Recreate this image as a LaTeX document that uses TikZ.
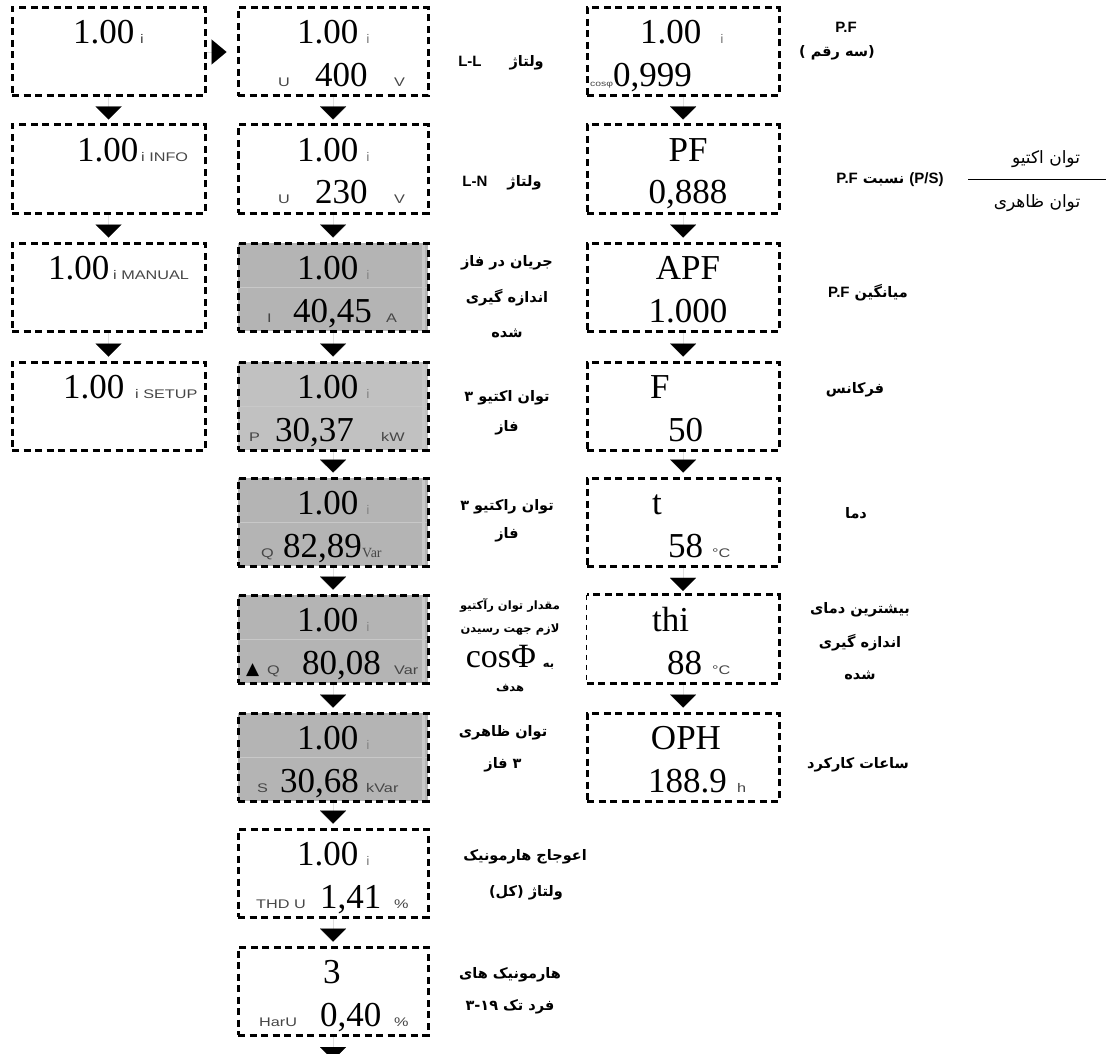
\documentclass[tikz,border=0pt]{standalone}
\usepackage{fontspec}
\setmainfont{Liberation Serif}
\newfontfamily\lcdf{Liberation Serif}
\newfontfamily\unitf[FakeStretch=1.3]{Liberation Sans}
\newfontfamily\faf[Script=Arabic]{DejaVu Sans}
\newfontfamily\symf{DejaVu Sans}
\newfontfamily\latf{Liberation Sans}
\TeXXeTstate=1
\usetikzlibrary{arrows.meta}
\definecolor{lcdgray}{RGB}{180,180,180}
\definecolor{lcdgrayl}{RGB}{193,193,193}
\definecolor{midl}{RGB}{200,200,200}
\definecolor{unitc}{RGB}{70,70,70}
\definecolor{ic}{RGB}{140,140,140}
\newcommand\numf{\lcdf\fontsize{35}{40}\selectfont}
\newcommand\unf{\unitf\fontsize{12.5}{14}\selectfont}
\newcommand\labf{\faf\bfseries\fontsize{14.5}{17}\selectfont}
\newcommand\labsf{\faf\bfseries\fontsize{11.5}{13}\selectfont}
\newcommand\fracf{\faf\fontsize{17}{20}\selectfont}
\newcommand\lt[1]{{\latf\bfseries\fontsize{15}{17}\selectfont #1}}
\newcommand\dg[1]{{\symf\bfseries #1}}
\tikzset{
  boxline/.style={line width=3pt, dash pattern=on 7pt off 4.5pt},
  lbox/.style={boxline, draw, minimum width=193pt, minimum height=88pt, inner sep=0pt},
  mbox/.style={boxline, draw, minimum width=190pt, minimum height=88pt, inner sep=0pt},
  rbox/.style={boxline, draw, minimum width=192pt, minimum height=88pt, inner sep=0pt},
  num/.style={anchor=base west, inner sep=0pt, font=\numf},
  numc/.style={anchor=base, inner sep=0pt, font=\numf},
  unit/.style={anchor=base west, inner sep=0pt, font=\unf, text=unitc},
  iu/.style={unit, text=ic},
  lab/.style={inner sep=0pt, font=\labf},
  labs/.style={inner sep=0pt, font=\labsf},
  conn/.style={line width=0.01pt, -{Triangle[width=26pt,length=13pt]}, shorten >=4pt},
  rconn/.style={line width=0.01pt, -{Triangle[width=25pt,length=15pt]}, shorten >=10pt},
  midline/.style={draw=midl, line width=1pt},
  strip/.style={draw=midl, line width=3pt},
}
\begin{document}
\begin{tikzpicture}[x=1pt, y=-1pt]
\useasboundingbox (0,0) rectangle (1106,1054);
% ---------- left column ----------
\node[lbox] (L1) at (108.5,52) {};
\node[lbox] (L2) at (108.5,169) {};
\node[lbox] (L3) at (108.5,287) {};
\node[lbox] (L4) at (108.5,406) {};
% ---------- middle column ----------
\node[mbox] (M1) at (333,52) {};
\node[mbox] (M2) at (333,169) {};
\node[mbox, fill=lcdgray] (M3) at (333,287) {};
\node[mbox, fill=lcdgrayl] (M4) at (333,406) {};
\node[mbox, fill=lcdgray] (M5) at (333,522) {};
\node[mbox, fill=lcdgray] (M6) at (333,639) {};
\node[mbox, fill=lcdgray] (M7) at (333,757) {};
\node[mbox] (M8) at (333,873) {};
\node[mbox] (M9) at (333,991) {};
\foreach \b in {M3,M4,M5,M6,M7}{
  \draw[midline] ([xshift=3pt]\b.west) -- ([xshift=-3pt]\b.east);
  \draw[strip] ([xshift=-6pt,yshift=-3pt]\b.north east) -- ([xshift=-6pt,yshift=3pt]\b.south east);
}
% ---------- right column ----------
\node[rbox] (R1) at (683,52) {};
\node[rbox] (R2) at (683,169) {};
\node[rbox] (R3) at (683,287) {};
\node[rbox] (R4) at (683,406) {};
\node[rbox] (R5) at (683,522) {};
\node[minimum width=192pt, minimum height=88pt, inner sep=0pt] (R6) at (683,639) {};
\draw[boxline] (R6.south west) -- (R6.south east) -- (R6.north east) -- (R6.north west);
\draw[line width=0.9pt, dash pattern=on 5pt off 5pt] (R6.north west) -- (R6.south west);
\node[rbox] (R7) at (683,757) {};
% ---------- connectors ----------
\draw[rconn] (L1.east) -- (M1.west);
\draw[conn] (L1.south) -- (L2.north);
\draw[conn] (L2.south) -- (L3.north);
\draw[conn] (L3.south) -- (L4.north);
\foreach \a/\b in {M1/M2,M2/M3,M3/M4,M4/M5,M5/M6,M6/M7,M7/M8,M8/M9,R1/R2,R2/R3,R3/R4,R4/R5,R5/R6,R6/R7}{
  \draw[conn] (\a.south) -- (\b.north);
}
\coordinate (Mend) at (333,1060);
\draw[line width=0.01pt, -{Triangle[width=26pt,length=13pt]}] (M9.south) -- (Mend);
% ---------- left texts ----------
\node[num] (L1a) at (73,44) {1.00};   \node[unit] (L1b) at (140,44) {i};
\node[num] (L2a) at (77,161) {1.00};  \node[unit] (L2b) at (141,161) {i INFO};
\node[num] (L3a) at (48,279) {1.00};  \node[unit] (L3b) at (113,279) {i MANUAL};
\node[num] (L4a) at (63,398) {1.00};  \node[unit] (L4b) at (135,398) {i SETUP};
% ---------- middle texts ----------
\foreach \n/\y in {M1/44,M2/161,M3/279,M4/398,M5/514,M6/631,M7/749,M8/865}{
  \node[num] (\n a) at (297,\y) {1.00};
  \node[iu] (\n b) at (366,\y) {i};
}
\node[unit] (M1c) at (278,87) {U}; \node[num] (M1d) at (315,87) {400}; \node[unit] (M1e) at (394,87) {V};
\node[unit] (M2c) at (278,204) {U}; \node[num] (M2d) at (315,204) {230}; \node[unit] (M2e) at (394,204) {V};
\node[unit] (M3c) at (267,322) {I}; \node[num] (M3d) at (293,322) {40,45}; \node[unit] (M3e) at (386,322) {A};
\node[unit] (M4c) at (249,441) {P}; \node[num] (M4d) at (275,441) {30,37}; \node[unit] (M4e) at (381,441) {kW};
\node[unit] (M5c) at (261,557) {Q}; \node[num] (M5d) at (283,557) {82,89};
\node[anchor=base west, inner sep=0pt, font=\lcdf\fontsize{14}{15}\selectfont, text=unitc] (M5e) at (362,557) {Var};
\node[anchor=base west, inner sep=0pt, font=\symf\fontsize{17}{18}\selectfont] (M6t) at (246,674) {▲};
\node[unit] (M6c) at (267,674) {Q}; \node[num] (M6d) at (302,674) {80,08}; \node[unit] (M6e) at (394,674) {Var};
\node[unit] (M7c) at (257,792) {S}; \node[num] (M7d) at (280,792) {30,68}; \node[unit] (M7e) at (366,792) {kVar};
\node[unit] (M8c) at (256,908) {THD U}; \node[num] (M8d) at (320,908) {1,41}; \node[unit] (M8e) at (394,908) {\%};
\node[num] (M9a) at (323,983) {3};
\node[unit] (M9c) at (259,1026) {HarU}; \node[num] (M9d) at (320,1026) {0,40}; \node[unit] (M9e) at (394,1026) {\%};
% ---------- right texts ----------
\node[num] (R1a) at (640,44) {1.00}; \node[iu] (R1b) at (720,44) {i};
\node[anchor=base west, inner sep=0pt, font=\unitf\fontsize{8}{9}\selectfont, text=unitc] (R1c) at (590,87) {cosφ};
\node[num] (R1d) at (613,87) {0,999};
\node[numc] (R2a) at (688,161) {PF};   \node[numc] (R2d) at (688,204) {0,888};
\node[numc] (R3a) at (688,279) {APF};  \node[numc] (R3d) at (688,322) {1.000};
\node[num] (R4a) at (650,398) {F};     \node[num] (R4d) at (668,441) {50};
\node[num] (R5a) at (652,514) {t};     \node[num] (R5d) at (668,557) {58}; \node[unit] (R5e) at (712,557) {°C};
\node[num] (R6a) at (652,631) {thi};   \node[num] (R6d) at (667,674) {88}; \node[unit] (R6e) at (712,674) {°C};
\node[numc] (R7a) at (686,749) {OPH};  \node[num] (R7d) at (648,792) {188.9}; \node[unit] (R7e) at (737,792) {h};
% ---------- middle labels ----------
\node[lab] (tLL) at (501,63) {\lt{L-L}\hspace{28pt}ولتاژ};
\node[lab] (tLN) at (502,183) {\lt{L-N}\hspace{20pt}ولتاژ};
\node[lab] (tI1) at (507,263) {\beginR جریان در فاز\endR};
\node[lab] (tI2) at (507,298) {\beginR اندازه گیری\endR};
\node[lab] (tI3) at (507,333) {شده};
\node[lab] (tP1) at (507,398) {\beginR توان اکتیو \dg{۳}\endR};
\node[lab] (tP2) at (507,428) {فاز};
\node[lab] (tQ1) at (507,507) {\beginR توان راکتیو \dg{۳}\endR};
\node[lab] (tQ2) at (507,535) {فاز};
\node[labs] (tD1) at (510,605) {\beginR مقدار توان رآکتیو\endR};
\node[labs] (tD2) at (510,630) {\beginR لازم جهت رسیدن\endR};
\node[inner sep=0pt] (tD3) at (510,657) {{\lcdf\fontsize{34}{36}\selectfont cosΦ}\hspace{7pt}{\labsf به}};
\node[labs] (tD4) at (510,688) {هدف};
\node[lab] (tS1) at (503,733) {\beginR توان ظاهری\endR};
\node[lab] (tS2) at (503,765) {\beginR\dg{۳} فاز\endR};
\node[lab] (tT1) at (525,857) {\beginR اعوجاج هارمونیک\endR};
\node[lab] (tT2) at (526,893) {\dg{(}کل\dg{)}\ ولتاژ};
\node[lab] (tH1) at (510,975) {\beginR هارمونیک های\endR};
\node[lab] (tH2) at (510,1007) {\dg{۳}\dg{-}\dg{۱۹}\ \beginR فرد تک\endR};
% ---------- right labels ----------
\node[lab] (uP1) at (846,27) {\lt{P.F}};
\node[lab] (uP2) at (837,53) {\dg{(}\ \beginR سه رقم\endR\dg{)}};
\node[lab] (uR) at (890,180) {\lt{P.F}\ نسبت\ \lt{(P/S)}};
\coordinate (frL) at (968,180);
\coordinate (frR) at (1106,180);
\draw[line width=1pt] (frL) -- (frR);
\node[inner sep=0pt, font=\fracf] (frN) at (1046,159) {\beginR توان اکتیو\endR};
\node[inner sep=0pt, font=\fracf] (frD) at (1037,203) {\beginR توان ظاهری\endR};
\node[lab] (uA) at (868,293) {\lt{P.F}\ میانگین};
\node[lab] (uF) at (855,390) {فرکانس};
\node[lab] (uT) at (856,513) {دما};
\node[lab] (uH1) at (860,610) {\beginR بیشترین دمای\endR};
\node[lab] (uH2) at (860,643) {\beginR اندازه گیری\endR};
\node[lab] (uH3) at (860,675) {شده};
\node[lab] (uO) at (858,765) {\beginR ساعات کارکرد\endR};
\end{tikzpicture}
\end{document}
